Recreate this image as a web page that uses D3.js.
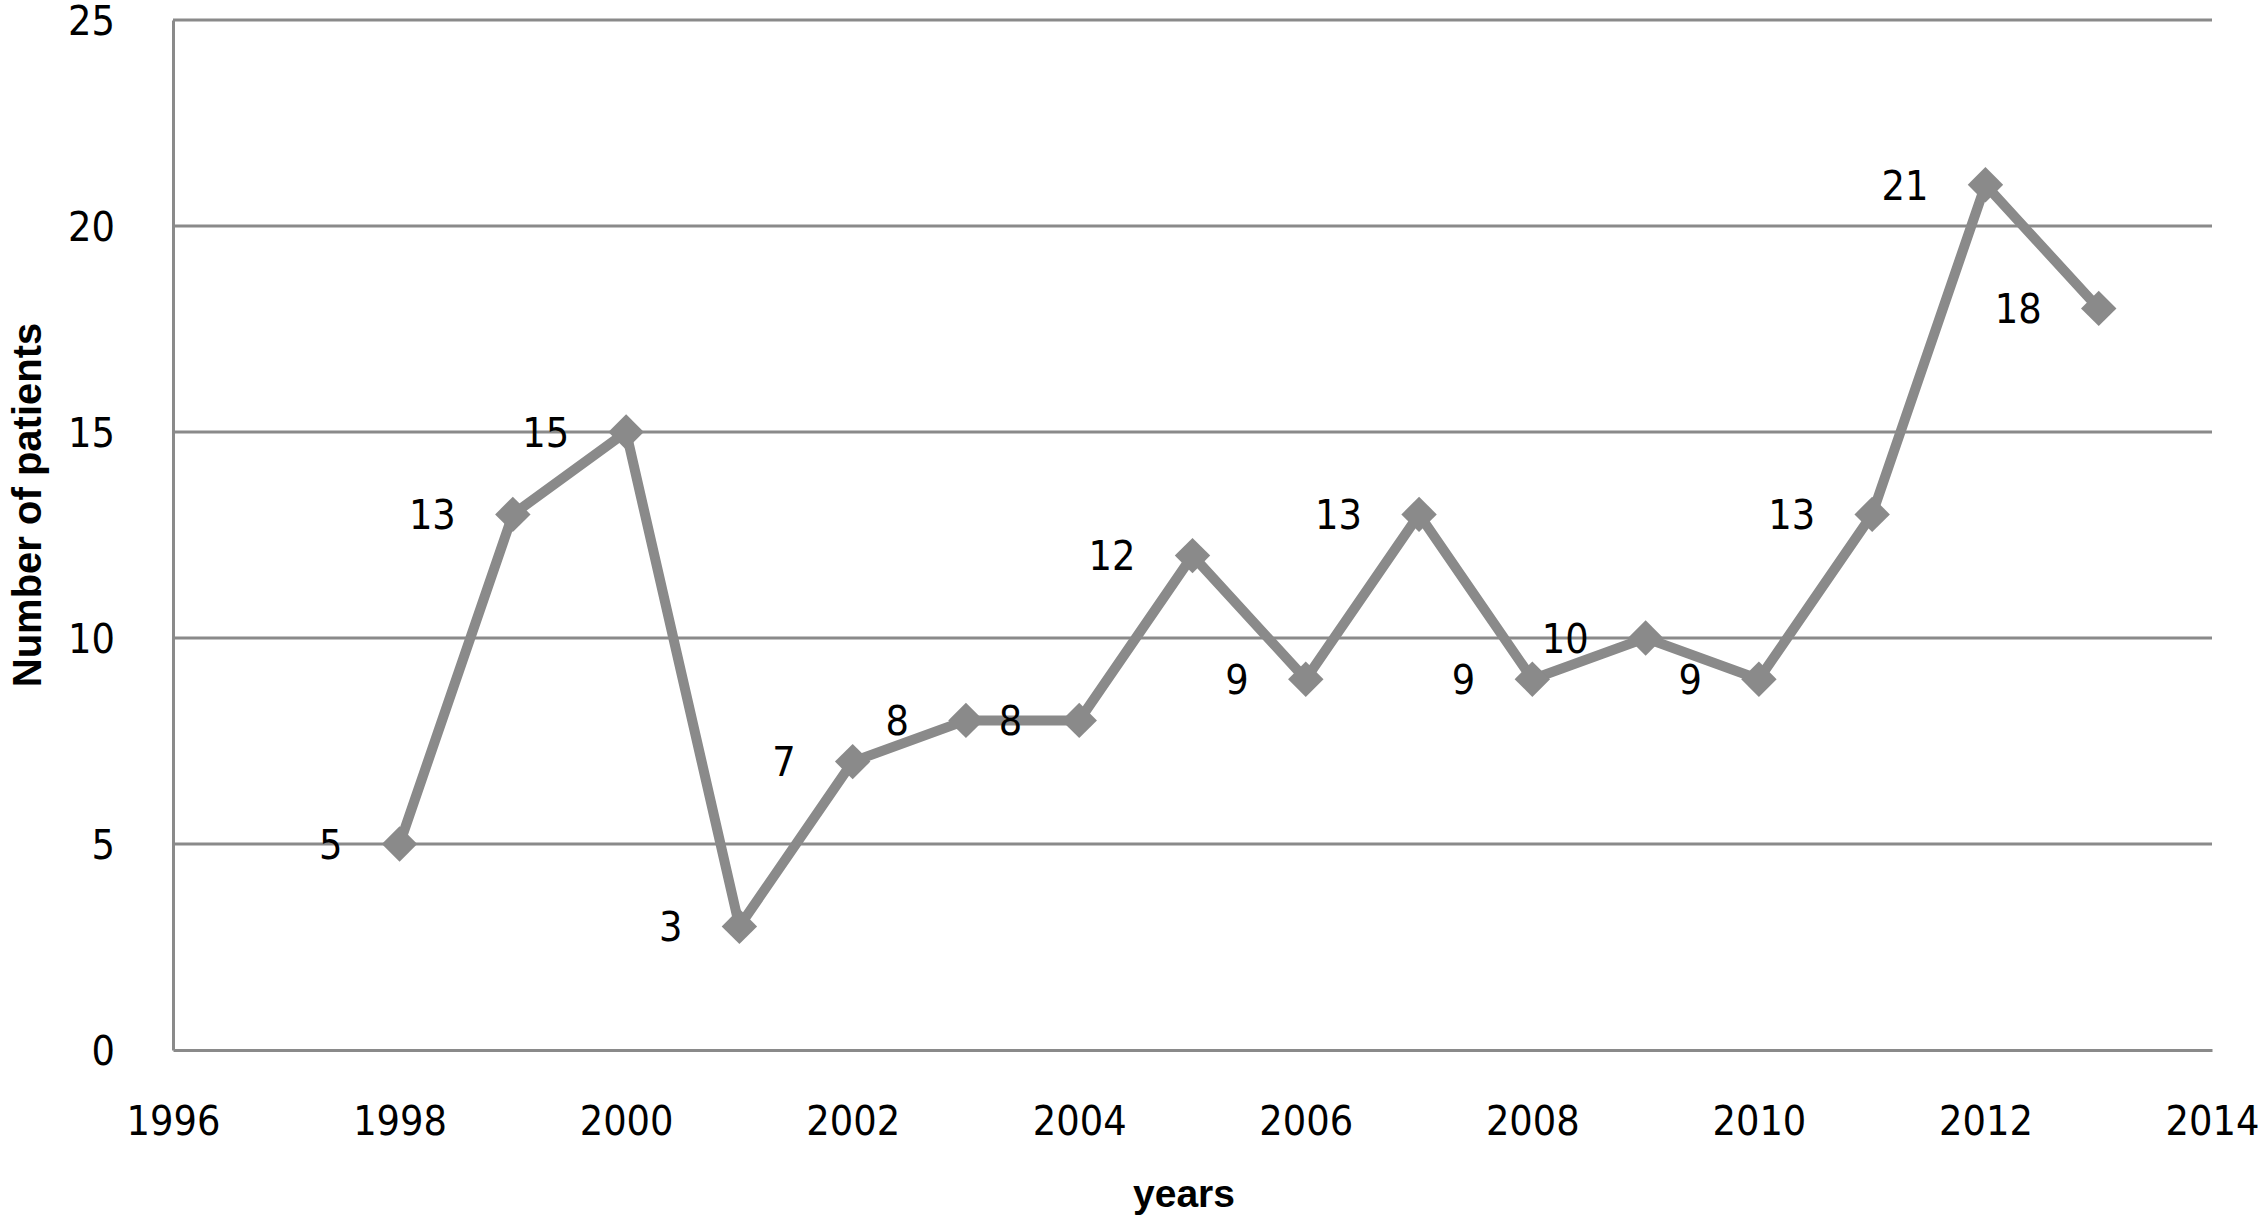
<!DOCTYPE html>
<html><head><meta charset="utf-8">
<script src="https://cdn.jsdelivr.net/npm/d3@7"></script>
<style>html,body{margin:0;padding:0;background:#fff;}</style>
</head><body>
<svg id="chart" width="2258" height="1222"></svg>
<script>
const years = [1998,1999,2000,2001,2002,2003,2004,2005,2006,2007,2008,2009,2010,2011,2012,2013];
const patients = [5,13,15,3,7,8,8,12,9,13,9,10,9,13,21,18];
const xTicks = [1996,1998,2000,2002,2004,2006,2008,2010,2012,2014];
const yTicks = [0,5,10,15,20,25];

const svg = d3.select("#chart");
const L = 173, R = 2212, T = 20, B = 1050;
const x = d3.scaleLinear().domain([1996,2014]).range([L,R]);
const y = d3.scaleLinear().domain([0,25]).range([B,T]);
const grey = "#8a8a8a";
const tickFont = "'DejaVu Sans Condensed','DejaVu Sans',sans-serif";

// gridlines
svg.append("g").selectAll("line").data(yTicks.filter(d=>d>0)).join("line")
  .attr("x1",L).attr("x2",R).attr("y1",d=>y(d)).attr("y2",d=>y(d))
  .attr("stroke",grey).attr("stroke-width",3);

// axes
const yAxis = svg.append("g").attr("transform",`translate(${L},0)`)
  .call(d3.axisLeft(y).tickValues(yTicks).tickSize(0).tickPadding(58).tickFormat(d3.format("d")));
const xAxis = svg.append("g").attr("transform",`translate(0,${B})`)
  .call(d3.axisBottom(x).tickValues(xTicks).tickSize(0).tickPadding(85).tickFormat(d3.format("d")));
[yAxis,xAxis].forEach(a=>{
  a.select(".domain").attr("stroke",grey).attr("stroke-width",3);
  a.selectAll("text").attr("font-family",tickFont).attr("font-size",41).attr("fill","#000");
});
xAxis.selectAll("text").attr("dy","0");
yAxis.selectAll("text").attr("dy","0.36em");

// line
const line = d3.line().x((d,i)=>x(years[i])).y(d=>y(d));
svg.append("path").datum(patients).attr("d",line)
  .attr("fill","none").attr("stroke",grey).attr("stroke-width",10).attr("stroke-linejoin","miter");

// markers
svg.append("g").selectAll("path").data(patients).join("path")
  .attr("d",d3.symbol().type(d3.symbolDiamond2).size(800))
  .attr("transform",(d,i)=>`translate(${x(years[i])},${y(d)})`)
  .attr("fill",grey);

// data labels
svg.append("g").selectAll("text").data(patients).join("text")
  .attr("x",(d,i)=>x(years[i])-57).attr("y",d=>y(d)).attr("dy","0.36em")
  .attr("text-anchor","end").attr("font-family",tickFont).attr("font-size",41)
  .attr("fill","#000").text(d=>d);

// axis titles
svg.append("text").attr("x",1184).attr("y",1207).attr("text-anchor","middle")
  .attr("font-family","'Liberation Sans',Arial,sans-serif").attr("font-weight","bold")
  .attr("font-size",39).text("years");
svg.append("text").attr("transform","translate(41,505) rotate(-90)").attr("text-anchor","middle")
  .attr("font-family","'Liberation Sans',Arial,sans-serif").attr("font-weight","bold")
  .attr("font-size",40).text("Number of patients");
</script>
</body></html>
